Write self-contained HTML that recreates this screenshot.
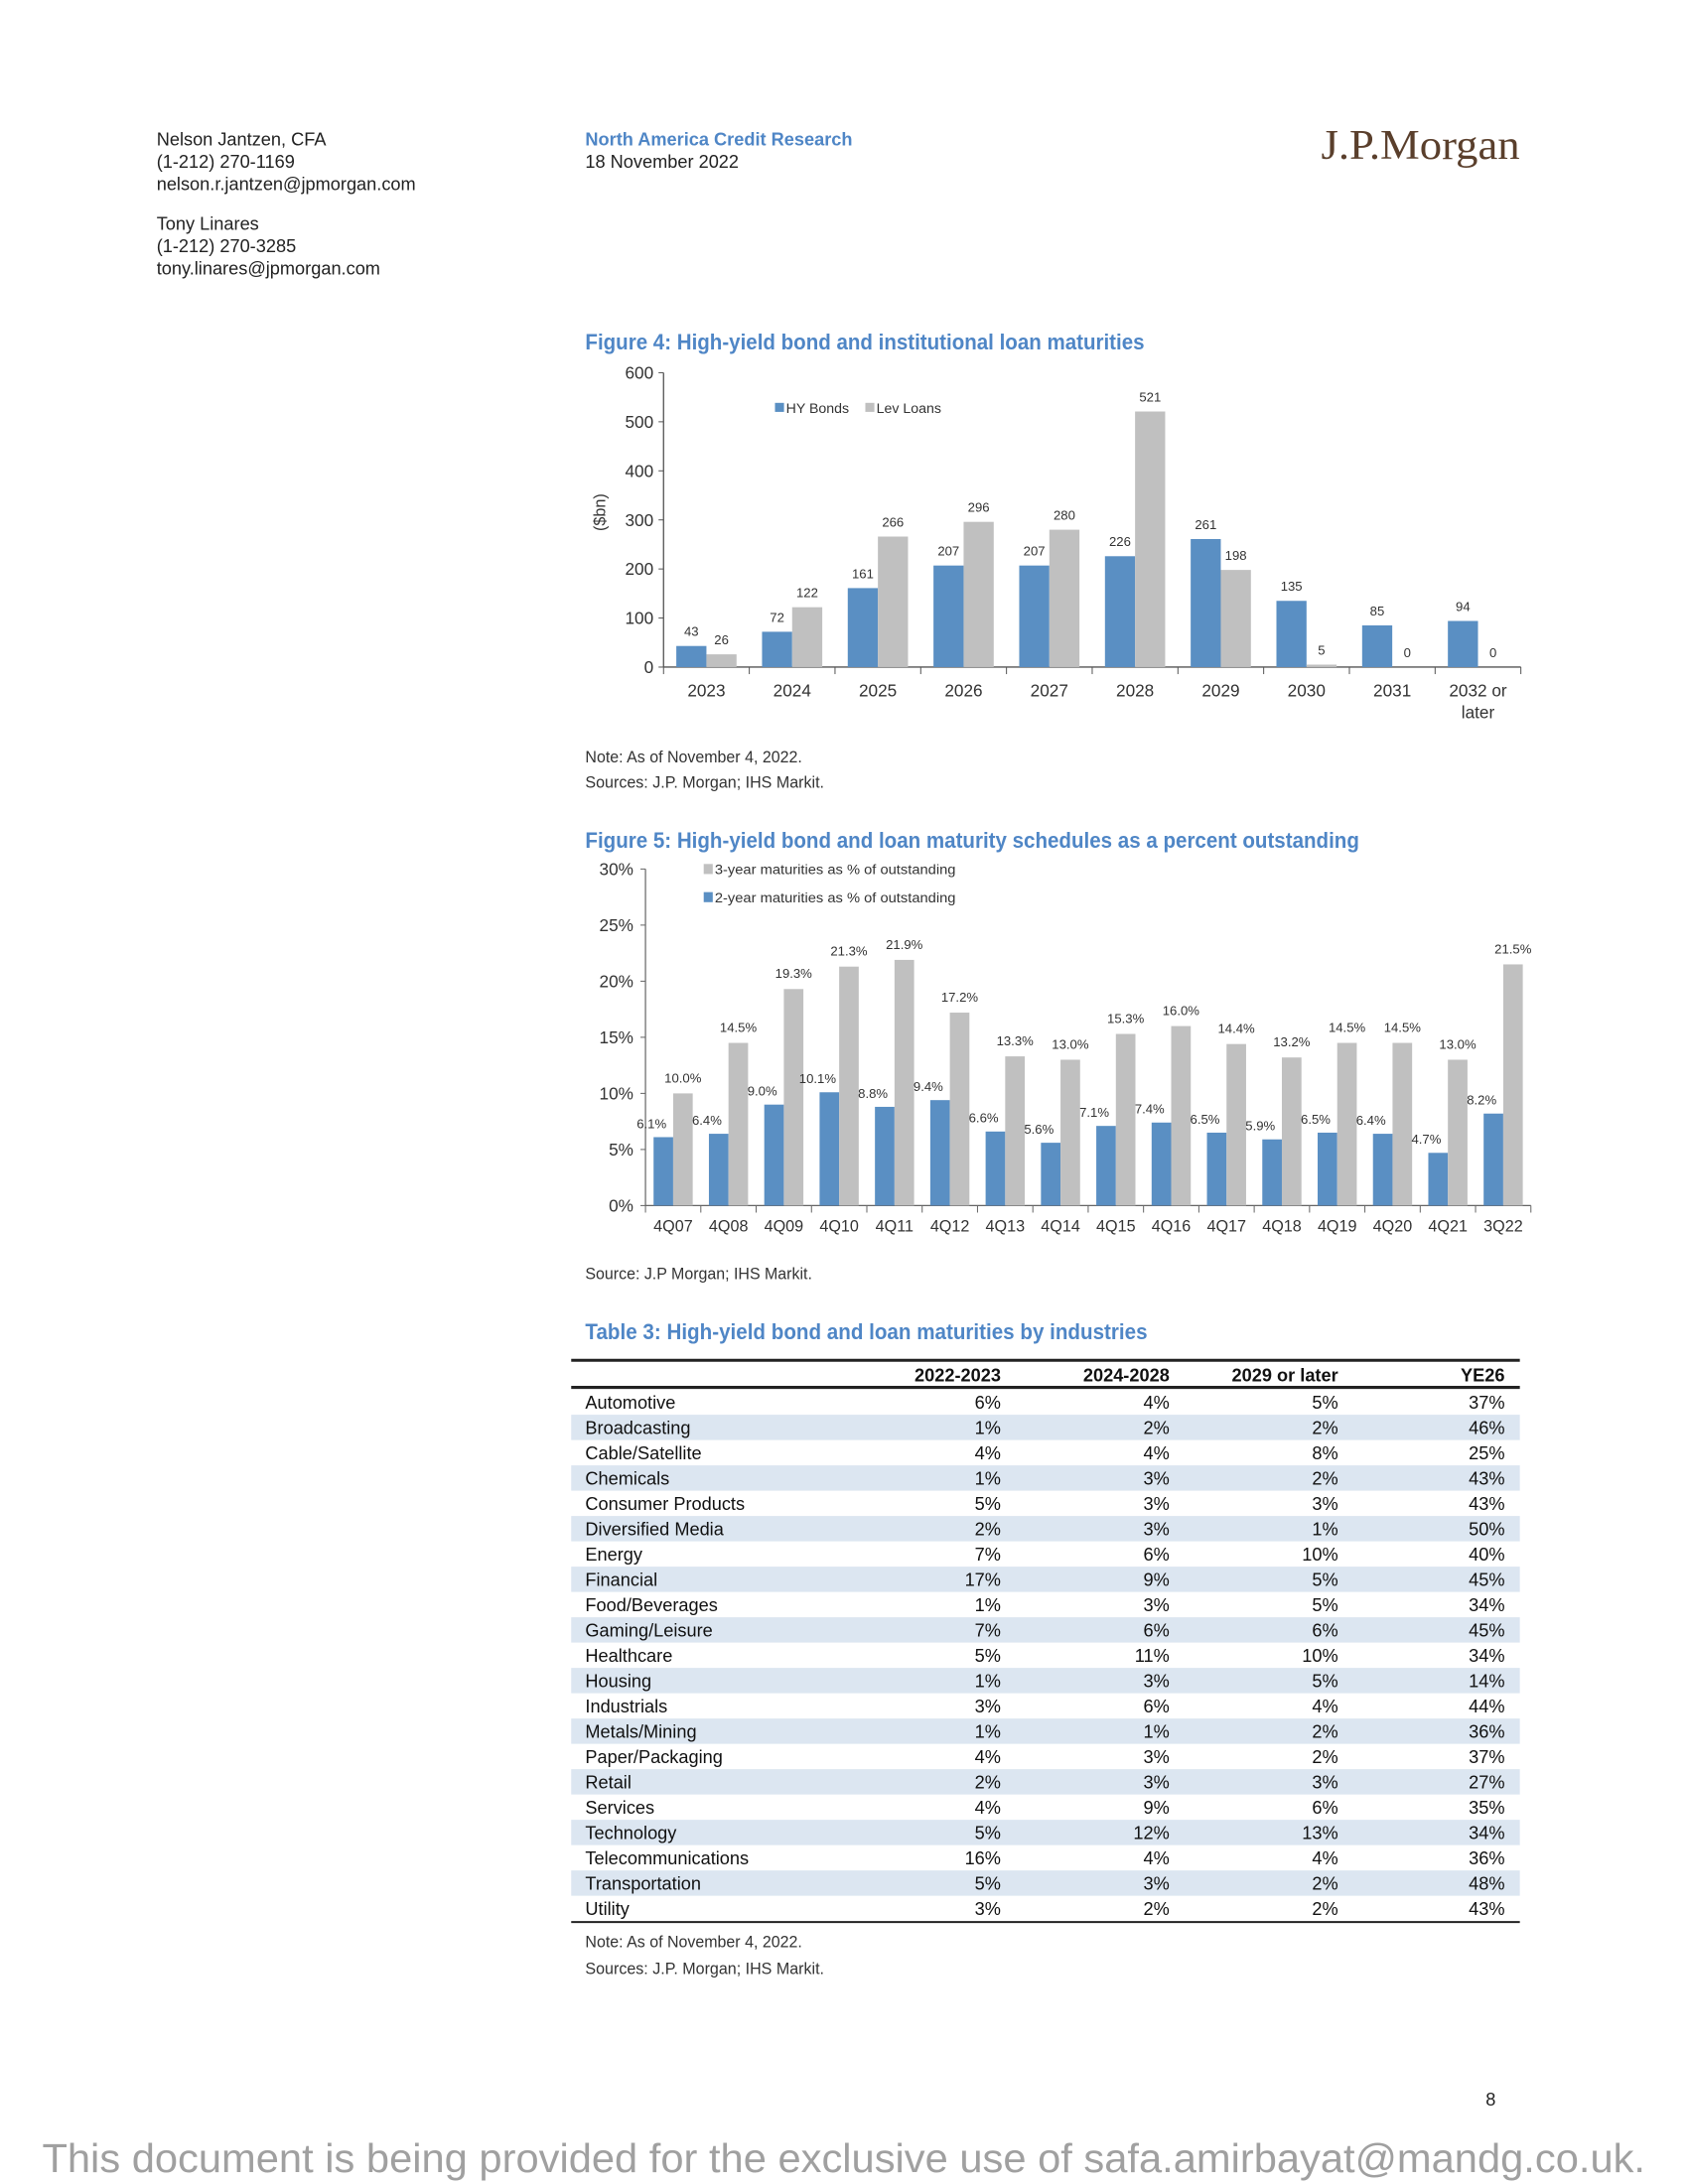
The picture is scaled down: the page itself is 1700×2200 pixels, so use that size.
<!DOCTYPE html>
<html><head><meta charset="utf-8"><style>
html,body{margin:0;padding:0;background:#fff;}
svg{display:block;font-family:"Liberation Sans",sans-serif;}
</style></head><body>
<svg id="page" width="1700" height="2200" viewBox="0 0 1700 2200" xmlns="http://www.w3.org/2000/svg">
<g transform="scale(1.011,1.012)">
<g font-size="18" fill="#222">
<text x="156" y="145">Nelson Jantzen, CFA</text>
<text x="156" y="167">(1-212) 270-1169</text>
<text x="156" y="189">nelson.r.jantzen@jpmorgan.com</text>
<text x="156" y="229">Tony Linares</text>
<text x="156" y="251">(1-212) 270-3285</text>
<text x="156" y="273">tony.linares@jpmorgan.com</text>
<text x="583" y="145" fill="#4f86c6" font-weight="bold">North America Credit Research</text>
<text x="583" y="167">18 November 2022</text>
<text x="1514" y="158" text-anchor="end" font-family="Liberation Serif,serif" font-size="42" fill="#5a3f2c" textLength="198" lengthAdjust="spacingAndGlyphs">J.P.Morgan</text>
</g>
<text x="583" y="348" font-size="22" font-weight="bold" fill="#4f86c6" textLength="557" lengthAdjust="spacingAndGlyphs">Figure 4: High-yield bond and institutional loan maturities</text>
<g id="fig4"></g>
<text x="583" y="759" font-size="16" fill="#333" textLength="216" lengthAdjust="spacingAndGlyphs">Note: As of November 4, 2022.</text>
<text x="583" y="784" font-size="16" fill="#333" textLength="238" lengthAdjust="spacingAndGlyphs">Sources: J.P. Morgan; IHS Markit.</text>
<text x="583" y="844" font-size="22" font-weight="bold" fill="#4f86c6" textLength="771" lengthAdjust="spacingAndGlyphs">Figure 5: High-yield bond and loan maturity schedules as a percent outstanding</text>
<g id="fig5"></g>
<text x="583" y="1273" font-size="16" fill="#333" textLength="226" lengthAdjust="spacingAndGlyphs">Source: J.P Morgan; IHS Markit.</text>
<text x="583" y="1333" font-size="22" font-weight="bold" fill="#4f86c6" textLength="560" lengthAdjust="spacingAndGlyphs">Table 3: High-yield bond and loan maturities by industries</text>
<g id="tbl"></g>
<text x="583" y="1938" font-size="16" fill="#333" textLength="216" lengthAdjust="spacingAndGlyphs">Note: As of November 4, 2022.</text>
<text x="583" y="1965" font-size="16" fill="#333" textLength="238" lengthAdjust="spacingAndGlyphs">Sources: J.P. Morgan; IHS Markit.</text>
<text x="1485" y="2096" font-size="18" fill="#222" text-anchor="middle">8</text>
<text x="42" y="2162" font-size="40" fill="#a0a0a0" textLength="1597" lengthAdjust="spacingAndGlyphs">This document is being provided for the exclusive use of safa.amirbayat@mandg.co.uk.</text>
</g>
</svg>
<script>
const NS="http://www.w3.org/2000/svg";
const f4Cats=["2023","2024","2025","2026","2027","2028","2029","2030","2031","2032 or|later"];
const f4Hy=[43,72,161,207,207,226,261,135,85,94];
const f4Lev=[26,122,266,296,280,521,198,5,0,0];
const f4Ticks=[0,100,200,300,400,500,600];
const f5Cats=["4Q07","4Q08","4Q09","4Q10","4Q11","4Q12","4Q13","4Q14","4Q15","4Q16","4Q17","4Q18","4Q19","4Q20","4Q21","3Q22"];
const f5Two=[6.1,6.4,9.0,10.1,8.8,9.4,6.6,5.6,7.1,7.4,6.5,5.9,6.5,6.4,4.7,8.2];
const f5Three=[10.0,14.5,19.3,21.3,21.9,17.2,13.3,13.0,15.3,16.0,14.4,13.2,14.5,14.5,13.0,21.5];
const f5Ticks=[0,5,10,15,20,25,30];
const tHead=["","2022-2023","2024-2028","2029 or later","YE26"];
const tRows=[["Automotive","6%","4%","5%","37%"],["Broadcasting","1%","2%","2%","46%"],["Cable/Satellite","4%","4%","8%","25%"],["Chemicals","1%","3%","2%","43%"],["Consumer Products","5%","3%","3%","43%"],["Diversified Media","2%","3%","1%","50%"],["Energy","7%","6%","10%","40%"],["Financial","17%","9%","5%","45%"],["Food/Beverages","1%","3%","5%","34%"],["Gaming/Leisure","7%","6%","6%","45%"],["Healthcare","5%","11%","10%","34%"],["Housing","1%","3%","5%","14%"],["Industrials","3%","6%","4%","44%"],["Metals/Mining","1%","1%","2%","36%"],["Paper/Packaging","4%","3%","2%","37%"],["Retail","2%","3%","3%","27%"],["Services","4%","9%","6%","35%"],["Technology","5%","12%","13%","34%"],["Telecommunications","16%","4%","4%","36%"],["Transportation","5%","3%","2%","48%"],["Utility","3%","2%","2%","43%"]];
const BLUE="#5a8fc3",GREY="#c0c0c0";
function mk(p,tag,a,txt){const e=document.createElementNS(NS,tag);for(const k in a)e.setAttribute(k,a[k]);if(txt!==undefined)e.textContent=txt;p.appendChild(e);return e;}

// Figure 4
(function(){
const g=document.getElementById('fig4');
const L=661,R=1515,T=371,B=664,max=600;
const y=v=>B-(v/max)*(B-T);
const cw=(R-L)/f4Cats.length,bw=30;
const x=i=>L+cw*(i+0.5);
let e=mk(g,'line',{x1:L,y1:T,x2:L,y2:B,stroke:'#555','stroke-width':1.3});

e=mk(g,'line',{x1:L,y1:B,x2:R,y2:B,stroke:'#555','stroke-width':1.3});

f4Ticks.forEach(t=>{mk(g,'line',{x1:L-5,y1:y(t),x2:L,y2:y(t),stroke:'#555'});
 e=mk(g,'text',{x:L-10,y:y(t)+6,'font-size':17,'text-anchor':'end',fill:'#333'},t);
 });
for(let i=0;i<=f4Cats.length;i++)mk(g,'line',{x1:L+cw*i,y1:B,x2:L+cw*i,y2:B+7,stroke:'#555'});
f4Cats.forEach((c,i)=>{const parts=c.split('|');parts.forEach((p,j)=>{
 e=mk(g,'text',{x:x(i),y:B+29+j*22,'font-size':17,'text-anchor':'middle',fill:'#333'},p);
 });
 e=mk(g,'rect',{x:x(i)-bw,y:y(f4Hy[i]),width:bw,height:B-y(f4Hy[i]),fill:BLUE});
 
 e=mk(g,'rect',{x:x(i),y:y(f4Lev[i]),width:bw,height:B-y(f4Lev[i]),fill:GREY});
 
 e=mk(g,'text',{x:x(i)-bw/2,y:y(f4Hy[i])-10,'font-size':13,'text-anchor':'middle',fill:'#333'},f4Hy[i]);
 
 e=mk(g,'text',{x:x(i)+bw/2,y:y(f4Lev[i])-10,'font-size':13,'text-anchor':'middle',fill:'#333'},f4Lev[i]);
 
});
e=mk(g,'text',{x:0,y:0,'font-size':16,'text-anchor':'middle',fill:'#333',transform:'translate(603,510) rotate(-90)'},'($bn)');

const lg=mk(g,'g',{});
mk(lg,'rect',{x:772,y:401,width:9,height:9,fill:BLUE});
e=mk(lg,'text',{x:783,y:411,'font-size':14,fill:'#333'},'HY Bonds');
mk(lg,'rect',{x:862,y:401,width:9,height:9,fill:GREY});
e=mk(lg,'text',{x:873,y:411,'font-size':14,fill:'#333'},'Lev Loans');
})();

// Figure 5
(function(){
const g=document.getElementById('fig5');
const L=643,R=1525,T=865,B=1200,max=30;
const y=v=>B-(v/max)*(B-T);
const cw=(R-L)/f5Cats.length,bw=19.5;
const x=i=>L+cw*(i+0.5);
let e=mk(g,'line',{x1:L,y1:T,x2:L,y2:B,stroke:'#666','stroke-width':1.2});

e=mk(g,'line',{x1:L,y1:B,x2:R,y2:B,stroke:'#666','stroke-width':1.2});

f5Ticks.forEach(t=>{mk(g,'line',{x1:L-5,y1:y(t),x2:L,y2:y(t),stroke:'#666'});
 e=mk(g,'text',{x:L-12,y:y(t)+6,'font-size':17,'text-anchor':'end',fill:'#333'},t+'%');
 });
for(let i=0;i<=f5Cats.length;i++)mk(g,'line',{x1:L+cw*i,y1:B,x2:L+cw*i,y2:B+7,stroke:'#666'});
f5Cats.forEach((c,i)=>{
 e=mk(g,'text',{x:x(i),y:B+26,'font-size':16,'text-anchor':'middle',fill:'#333'},c);
 
 e=mk(g,'rect',{x:x(i)-bw,y:y(f5Two[i]),width:bw,height:B-y(f5Two[i]),fill:BLUE});
 
 e=mk(g,'rect',{x:x(i),y:y(f5Three[i]),width:bw,height:B-y(f5Three[i]),fill:GREY});
 
 e=mk(g,'text',{x:x(i)-bw-2,y:y(f5Two[i])-9,'font-size':13,'text-anchor':'middle',fill:'#333'},f5Two[i].toFixed(1)+'%');
 
 e=mk(g,'text',{x:x(i)+bw/2,y:y(f5Three[i])-11,'font-size':13,'text-anchor':'middle',fill:'#333'},f5Three[i].toFixed(1)+'%');
 
});
const lg=mk(g,'g',{});
mk(lg,'rect',{x:701,y:860,width:9,height:10,fill:GREY});
e=mk(lg,'text',{x:712,y:870,'font-size':14,fill:'#333',textLength:240,lengthAdjust:'spacingAndGlyphs'},'3-year maturities as % of outstanding');
mk(lg,'rect',{x:701,y:888,width:9,height:10,fill:BLUE});
e=mk(lg,'text',{x:712,y:898,'font-size':14,fill:'#333',textLength:240,lengthAdjust:'spacingAndGlyphs'},'2-year maturities as % of outstanding');
})();

// Table
(function(){
const g=document.getElementById('tbl');
const L=569,R=1514,top=1354,hb=1381,rh=25.2;
const colR=[0,997,1165,1333,1499];
tRows.forEach((r,i)=>{
 const yt=hb+2+i*rh;
 if(i%2===1){const s=mk(g,'rect',{x:L,y:yt,width:R-L,height:rh,fill:'#dce6f1'});}
 r.forEach((c,j)=>{
  const e=mk(g,'text',{x:j===0?583:colR[j],y:yt+19,'font-size':18,fill:'#111','text-anchor':j===0?'start':'end'},c);
  
 });
});
tHead.forEach((h,j)=>{if(!h)return;const e=mk(g,'text',{x:colR[j],y:1375,'font-size':18,'font-weight':'bold',fill:'#111','text-anchor':'end'},h);
 });
let e=mk(g,'line',{x1:L,y1:top,x2:R,y2:top,stroke:'#222','stroke-width':3});
e=mk(g,'line',{x1:L,y1:hb,x2:R,y2:hb,stroke:'#222','stroke-width':3});
const bot=hb+2+tRows.length*rh+1;
e=mk(g,'line',{x1:L,y1:bot,x2:R,y2:bot,stroke:'#222','stroke-width':2});
})();
</script>
</body></html>
